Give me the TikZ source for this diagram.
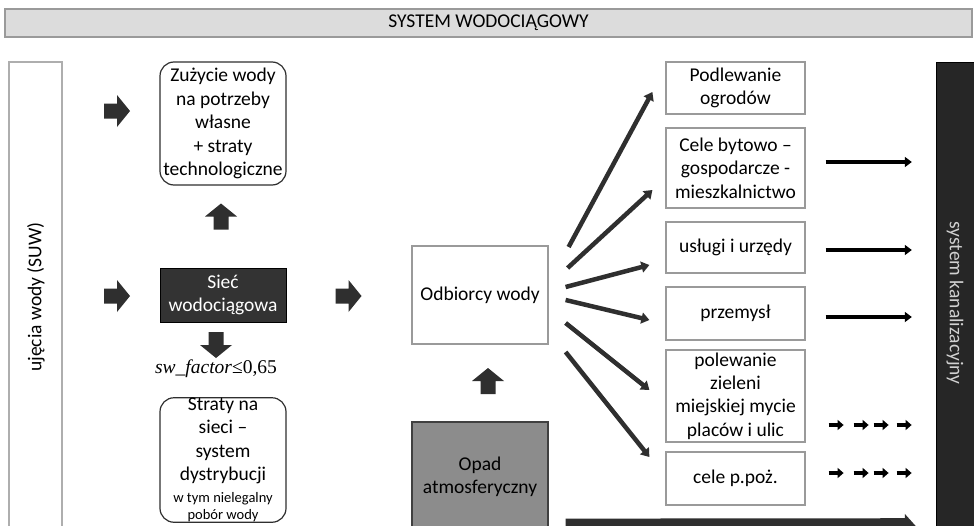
\documentclass[tikz,border=0pt]{standalone}
\usepackage{fontspec}
\setmainfont{Carlito}
\newfontfamily\timesf{Liberation Serif}
\usetikzlibrary{arrows.meta,calc}
\definecolor{arrdark}{HTML}{2F2F2F}
\definecolor{boxline}{HTML}{9A9A9A}
\definecolor{titlefill}{HTML}{DCDCDC}
\definecolor{sieccol}{HTML}{333333}
\definecolor{opadcol}{HTML}{8C8C8C}
\definecolor{kancol}{HTML}{262626}
\tikzset{
  txt/.style={font=\fontsize{19.5}{23.5}\selectfont, align=center, inner sep=0pt},
  plainbox/.style={txt, draw=boxline, line width=1.2pt, fill=white, minimum width=139pt},
  roundbox/.style={txt, draw=arrdark, line width=1.2pt, rounded corners=14pt, minimum width=126pt},
  fanarrow/.style={draw=arrdark, line width=4.5pt, -{Triangle[length=8pt,width=11pt]}},
  outarrow/.style={draw=black, line width=3.5pt, -{Triangle[length=7pt,width=10pt]}},
  smallarrow/.style={draw=black, line width=4pt, -{Triangle[length=6pt,width=10pt]}},
  blkarr/.pic={\fill[arrdark] (-13,-7.5) -- (0,-7.5) -- (0,-16) -- (13,0) -- (0,16) -- (0,7.5) -- (-13,7.5) -- cycle;}
}
\begin{document}
\begin{tikzpicture}[x=1pt,y=-1pt]
\clip (0,0) rectangle (974,525);
\fill[white] (0,0) rectangle (974,525);

% title bar
\node[txt, draw=boxline, line width=1.5pt, fill=titlefill, minimum width=967pt, minimum height=28pt] (title) at (488.5,23) {SYSTEM WODOCIĄGOWY};

% side bars
\node[draw=boxline!80, line width=1.2pt, fill=white, minimum width=53pt, minimum height=468pt, inner sep=0pt] (suw) at (35.5,296) {};
\node[txt, rotate=90] (suwtxt) at (36,297) {ujęcia wody (SUW)};
\node[draw=black, fill=kancol, minimum width=44pt, minimum height=468pt, inner sep=0pt] (kan) at (958,296) {};
\node[txt, rotate=-90, text=white!82!black] (kantxt) at (955,303) {system kanalizacyjny};

% left column
\node[roundbox, minimum height=123pt] (zuz) at (223,123.5) {Zużycie wody\\na potrzeby\\własne\\+ straty\\technologiczne};
\node[txt, draw=black, fill=sieccol, text=white, minimum width=126pt, minimum height=54pt] (siec) at (223,295) {Sieć\\wodociągowa};
\node[inner sep=0pt, font=\fontsize{19.5}{22}\timesf] (swf) at (216,369) {\itshape sw\_factor\upshape≤0,65};
\node[roundbox, minimum height=124pt] (straty) at (223,460) {Straty na\\sieci –\\system\\dystrybucji\\[-2pt]{\fontsize{14.5}{16.5}\selectfont w tym nielegalny}\\[-6pt]{\fontsize{14.5}{16.5}\selectfont pobór wody}};

% middle column
\node[plainbox, minimum width=136pt, minimum height=98pt] (odb) at (480,295) {Odbiorcy wody};
\node[txt, draw=black!75, line width=1.2pt, fill=opadcol, minimum width=136pt, minimum height=108pt] (opad) at (480,476) {};
\node[txt] (opadtxt) at (480,477) {Opad\\atmosferyczny};

% right column
\node[plainbox, minimum height=52pt] (podl) at (735.5,88) {Podlewanie\\ogrodów};
\node[plainbox, minimum height=80pt] (cele) at (735.5,168) {Cele bytowo –\\gospodarcze -\\mieszkalnictwo};
\node[plainbox, minimum height=51pt] (uslugi) at (735.5,247.5) {usługi i urzędy};
\node[plainbox, minimum height=53pt] (przem) at (735.5,313.5) {przemysł};
\node[plainbox, minimum height=92pt, font=\fontsize{19.5}{23.3}\selectfont] (polew) at (735.5,396) {polewanie\\zieleni\\miejskiej mycie\\placów i ulic};
\node[plainbox, minimum height=53pt] (ppoz) at (735.5,478.5) {cele p.poż.};

% block arrows
\pic at (117,111) {blkarr};
\pic at (117,296) {blkarr};
\pic[rotate=90] at (221,216.5) {blkarr};
\pic[rotate=-90] at (216,345) {blkarr};
\pic at (348.5,296) {blkarr};
\pic[rotate=90] at (488,381) {blkarr};

% fan arrows
\draw[fanarrow] ($(odb.east)+(20,-48)$) -- ($(podl.west)+(-13,4)$);
\draw[fanarrow] ($(odb.east)+(19,-27)$) -- ($(cele.west)+(-13,22)$);
\draw[fanarrow] ($(odb.east)+(17,-8)$) -- ($(uslugi.west)+(-16,17.5)$);
\draw[fanarrow] ($(odb.east)+(17,5)$) -- ($(przem.west)+(-16,6.5)$);
\draw[fanarrow] ($(odb.east)+(17,28)$) -- ($(polew.west)+(-16,-6)$);
\draw[fanarrow] ($(odb.east)+(17,57)$) -- ($(ppoz.west)+(-16,-21.5)$);

% outflow arrows
\draw[outarrow] ($(cele.east)+(20,-6)$) -- ($(kan.west |- cele.east)+(-24,-6)$);
\draw[outarrow] ($(uslugi.east)+(20,2.5)$) -- ($(kan.west |- uslugi.east)+(-24,2.5)$);
\draw[outarrow] ($(przem.east)+(20,3.5)$) -- ($(kan.west |- przem.east)+(-24,3.5)$);
\foreach \xs in {828,853,873,896}{
  \draw[smallarrow] ($(polew.east |- 0,425)+(\xs-805,0)$) -- ++(15,0);
  \draw[smallarrow] ($(ppoz.east |- 0,473)+(\xs-805,0)$) -- ++(15,0);
}

% bottom arrow
\draw[draw=arrdark, line width=18pt, -{Triangle[length=12pt,width=26pt]}] ($(opad.south east)+(17,-3)$) -- ($(kan.south west)+(-19,-3)$);
\end{tikzpicture}
\end{document}
